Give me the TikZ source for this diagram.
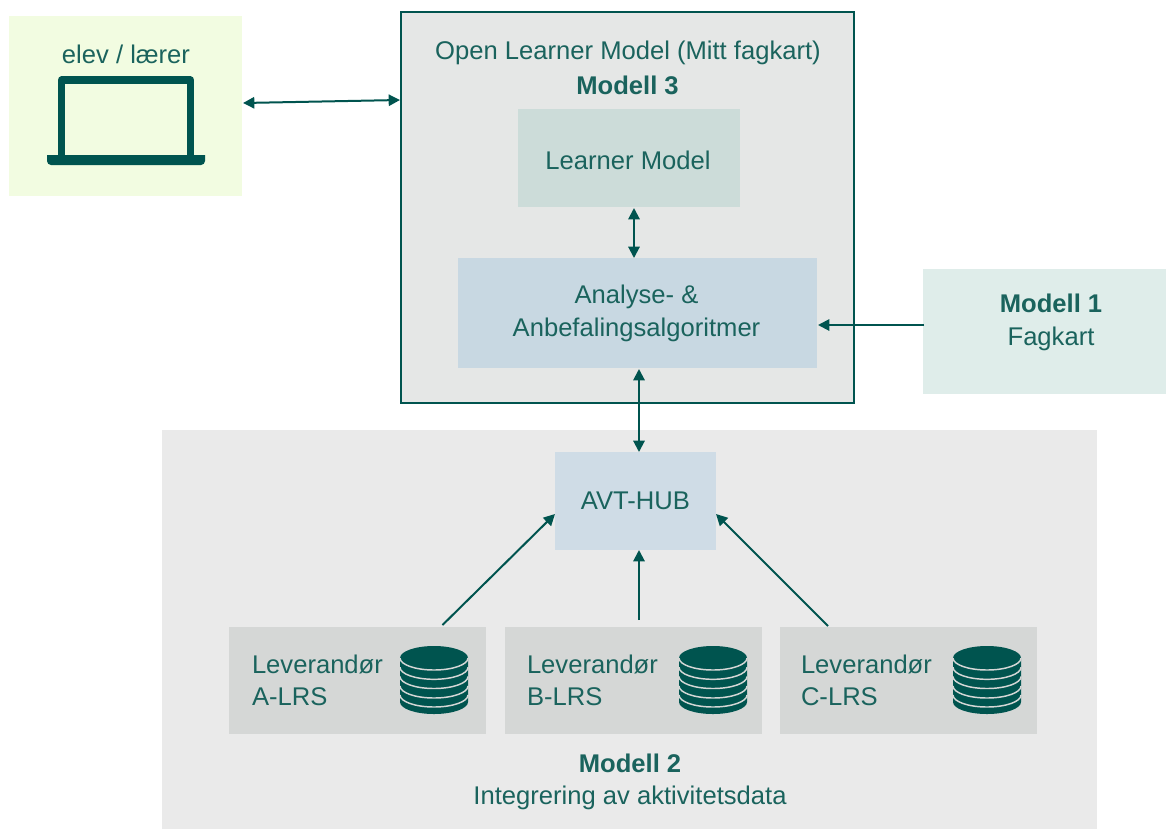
\documentclass[tikz,border=0pt]{standalone}
\usepackage{fontspec}
\setmainfont{Liberation Sans}
\usetikzlibrary{arrows.meta,calc}
\definecolor{dark}{HTML}{00544F}
\definecolor{ink}{HTML}{1A635D}
\definecolor{elevbg}{HTML}{F2FCE1}
\definecolor{olmbg}{HTML}{E5E7E6}
\definecolor{learnbg}{HTML}{CCDCD9}
\definecolor{anabg}{HTML}{C8D8E2}
\definecolor{fagbg}{HTML}{DFEDEA}
\definecolor{intbg}{HTML}{EAEAEA}
\definecolor{hubbg}{HTML}{CFDCE6}
\definecolor{lrsbg}{HTML}{D5D7D6}
\tikzset{
  x=0.75pt,y=-0.75pt,
  box/.style={inner sep=0pt,outer sep=0pt,text=ink,align=center,font=\fontsize{19.2}{24.2}\selectfont},
  lbl/.style={inner sep=0pt,outer sep=0pt,text=ink,align=center,font=\fontsize{19.2}{24.2}\selectfont},
  lrslbl/.style={lbl,align=left,anchor=west},
  arr/.style={draw=dark,line width=1.5pt,{Triangle[length=8.5pt,width=8.5pt]}-{Triangle[length=8.5pt,width=8.5pt]}},
  arrone/.style={draw=dark,line width=1.5pt,-{Triangle[length=8.5pt,width=8.5pt]}},
  db/.pic={
    \fill[dark] (-34,0) arc[start angle=180,end angle=360,x radius=34,y radius=12]
      -- (34,44) arc[start angle=0,end angle=180,x radius=34,y radius=12] -- cycle;
    \foreach \d in {0,9.3,18.5,28,37}
      \draw[lrsbg,line width=1.1pt] (-34,\d) arc[start angle=180,end angle=0,x radius=34,y radius=12];
  }
}
\begin{document}
\begin{tikzpicture}
\useasboundingbox (0,0) rectangle (1166,829);
% backgrounds
\node[box,fill=elevbg,minimum width=174.75pt,minimum height=135pt] (elev) at (125.5,106) {};
\node[box,fill=olmbg,draw=dark,line width=1.2pt,minimum width=339.75pt,minimum height=293.25pt] (olm) at (627.5,207.5) {};
\node[box,fill=learnbg,minimum width=166.5pt,minimum height=73.5pt] (learner) at (629,158) {};
\node[box,fill=anabg,minimum width=269.25pt,minimum height=82.5pt] (ana) at (637.5,313) {};
\node[box,fill=fagbg,minimum width=182.25pt,minimum height=93.75pt] (fag) at (1044.5,331.5) {};
\node[box,fill=intbg,minimum width=701.25pt,minimum height=299.25pt] (integ) at (629.5,629.5) {};
\node[box,fill=hubbg,minimum width=120.75pt,minimum height=73.5pt] (hub) at (635.5,501) {AVT-HUB};
\node[box,fill=lrsbg,minimum width=192.75pt,minimum height=80.25pt] (lrsA) at (357.5,680.5) {};
\node[box,fill=lrsbg,minimum width=192.75pt,minimum height=80.25pt] (lrsB) at (633.5,680.5) {};
\node[box,fill=lrsbg,minimum width=192.75pt,minimum height=80.25pt] (lrsC) at (908.5,680.5) {};
% labels
\node[lbl] (elevtxt) at (126,54) {elev / lærer};
\node[lbl] (olmtxt) at (628,53) {Open Learner Model (Mitt fagkart)};
\node[lbl] (olmbold) at (627.5,85) {\textbf{Modell 3}};
\node[lbl] (learntxt) at (628,160) {Learner Model};
\node[lbl] (anatxt) at (636.5,313.5) {Analyse- \&\\Anbefalingsalgoritmer};
\node[lbl] (fagtxt) at (1051,322.5) {\textbf{Modell 1}\\Fagkart};
\node[lbl] (integtxt) at (630,781.5) {\textbf{Modell 2}\\Integrering av aktivitetsdata};
\node[lrslbl] (la) at (252,680) {Leverandør\\A-LRS};
\node[lrslbl] (lb) at (527,680) {Leverandør\\B-LRS};
\node[lrslbl] (lc) at (801,680) {Leverandør\\C-LRS};
% laptop
\draw[dark,line width=5.4pt,line join=round,fill=elevbg] (61.5,158) -- (61.5,80) -- (190.5,80) -- (190.5,158);
\fill[dark] (47,155) -- (205,155) -- (205,161) arc[start angle=0,end angle=90,radius=4] -- (51,165) arc[start angle=90,end angle=180,radius=4] -- cycle;
% databases
\pic at (434,658) {db};
\pic at (713,658) {db};
\pic at (987,658) {db};
% connectors
\draw[arr] ($(elev.east)+(1,-3)$) -- ($(olm.west)+(-1,-107.5)$);
\draw[arr] ($(learner.south)+(5,1)$) -- ($(ana.north)+(-3.5,0)$);
\draw[arrone] (fag.west) ++(1,-6.5) -- ($(ana.east)+(1,12)$);
\draw[arr] ($(ana.south)+(1.5,1)$) -- ($(hub.north)+(3.5,0)$);
\draw[arrone] ($(lrsA.north)+(85,-2)$) -- ($(hub.west)+(0,13)$);
\draw[arrone] ($(lrsB.north)+(5.5,-7)$) -- ($(hub.south)+(3.5,0)$);
\draw[arrone] ($(lrsC.north)+(-80.5,-1)$) -- ($(hub.east)+(0,13)$);
\end{tikzpicture}
\end{document}
